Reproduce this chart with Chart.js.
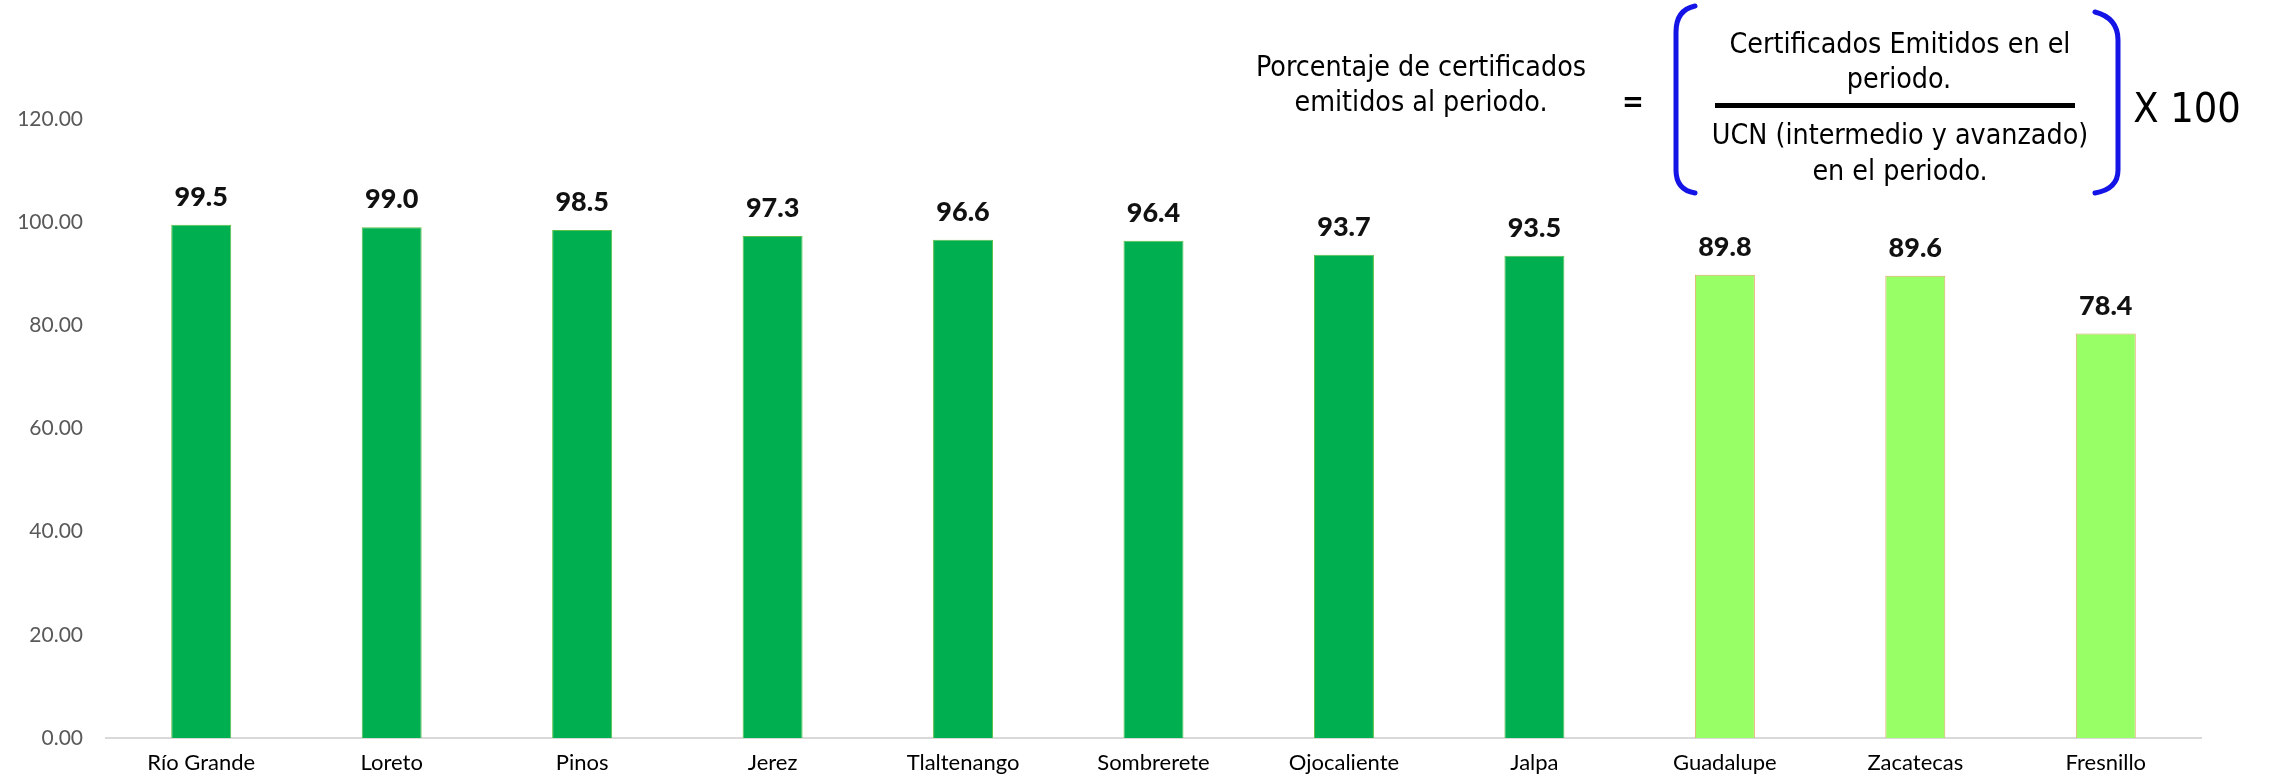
<!DOCTYPE html>
<html><head><meta charset="utf-8">
<script src="https://cdn.jsdelivr.net/npm/chart.js@4.4.0/dist/chart.umd.min.js"></script>
<style>
html,body{margin:0;padding:0;background:#fff;}
#wrap{position:relative;width:2270px;height:776px;overflow:hidden;}
#c{position:absolute;left:0;top:0;}
.f{position:absolute;white-space:nowrap;font-family:'DejaVu Sans Condensed','DejaVu Sans';font-stretch:condensed;font-size:29px;color:#000;line-height:1;}
#ov{position:absolute;left:0;top:0;}
</style></head><body>
<div id="wrap">
<canvas id="c" width="2270" height="776"></canvas>
<svg id="ov" width="2270" height="776">
  <path d="M 1695 6 Q 1676 10 1676 32 L 1676 170 Q 1676 190 1695 193" fill="none" stroke="#1414E6" stroke-width="5" stroke-linecap="round"/>
  <path d="M 2095 12 Q 2118 18 2118 40 L 2118 170 Q 2118 189 2095 193" fill="none" stroke="#1414E6" stroke-width="5" stroke-linecap="round"/>
  <rect x="1715" y="103" width="360" height="5" fill="#000"/>
</svg>
<div class="f t" data-cx="1421" data-cy="66">Porcentaje de certificados</div>
<div class="f t" data-cx="1421" data-cy="101">emitidos al periodo.</div>
<div class="f" data-cx="1633" data-cy="101" style="font-weight:bold;">=</div>
<div class="f t" data-cx="1900" data-cy="43">Certificados Emitidos en el</div>
<div class="f t" data-cx="1899" data-cy="78">periodo.</div>
<div class="f t" data-cx="1900" data-cy="134">UCN (intermedio y avanzado)</div>
<div class="f t" data-cx="1900" data-cy="170">en el periodo.</div>
<div class="f x" data-cx="2187" data-cy="108" style="font-size:40px;">X 100</div>
</div>
<script>
const categories = ['Río Grande','Loreto','Pinos','Jerez','Tlaltenango','Sombrerete','Ojocaliente','Jalpa','Guadalupe','Zacatecas','Fresnillo'];
const values = [99.5, 99.0, 98.5, 97.3, 96.6, 96.4, 93.7, 93.5, 89.8, 89.6, 78.4];
const yTicks = [0, 20, 40, 60, 80, 100, 120];

const DARK = '#00B050', LIGHT = '#99FF66';
const DARK_BORDER = '#5CBF4A', LIGHT_BORDER = '#E0A862';

// formula text placement
(function(){
  const ref = [...document.querySelectorAll('.f.t')];
  const targets = {'Porcentaje de certificados':326,'Certificados Emitidos en el':341,'UCN (intermedio y avanzado)':381};
  let ratios = [];
  ref.forEach(el=>{ const t = targets[el.textContent]; if(t) ratios.push(t/el.offsetWidth); });
  const s = ratios.reduce((a,b)=>a+b,0)/ratios.length;
  document.querySelectorAll('.f').forEach(el=>{
    el.style.left = el.dataset.cx+'px';
    el.style.top = el.dataset.cy+'px';
    let sc = 1;
    if(el.classList.contains('t')) sc = s;
    if(el.classList.contains('x')) sc = 108/el.offsetWidth;
    el.style.transform = 'translate(-50%,-50%) scaleX('+sc+')';
  });
})();

const valueLabels = {
  id:'valueLabels',
  afterDatasetsDraw(chart){
    const ctx = chart.ctx;
    const meta = chart.getDatasetMeta(0);
    ctx.save();
    ctx.font = '900 27px Lato';
    ctx.fillStyle = '#111111';
    ctx.textAlign = 'center';
    ctx.textBaseline = 'alphabetic';
    meta.data.forEach((bar,i)=>{
      ctx.fillText(values[i].toFixed(1), bar.x, bar.y - 19);
    });
    ctx.restore();
  }
};

new Chart(document.getElementById('c'), {
  type:'bar',
  data:{
    labels: categories,
    datasets:[{
      data: values,
      backgroundColor: values.map(v => v >= 90 ? DARK : LIGHT),
      borderColor: values.map(v => v >= 90 ? DARK_BORDER : LIGHT_BORDER),
      borderWidth: {top:1,left:1,right:1,bottom:0},
      borderSkipped: 'bottom',
      categoryPercentage: 1,
      barPercentage: 0.315
    }]
  },
  options:{
    responsive:false,
    animation:false,
    events:[],
    layout:{padding:{left:0,right:69,top:119,bottom:0}},
    plugins:{legend:{display:false},tooltip:{enabled:false},title:{display:false}},
    scales:{
      x:{
        grid:{display:false,drawTicks:false},
        border:{display:true,color:'#D9D9D9',width:2},
        ticks:{font:{family:'Lato',size:22},color:'#000000',padding:12,maxRotation:0,autoSkip:false},
        afterFit(scale){ scale.height = 38; }
      },
      y:{
        min:0,max:120,
        grid:{display:false,drawTicks:false},
        border:{display:false},
        afterBuildTicks(scale){ scale.ticks = yTicks.map(v=>({value:v})); },
        ticks:{font:{family:'Lato',size:21},color:'#595959',padding:23,callback:v=>Number(v).toFixed(2)},
        afterFit(scale){ scale.width = 106; }
      }
    }
  },
  plugins:[valueLabels]
});
</script>
</body></html>
